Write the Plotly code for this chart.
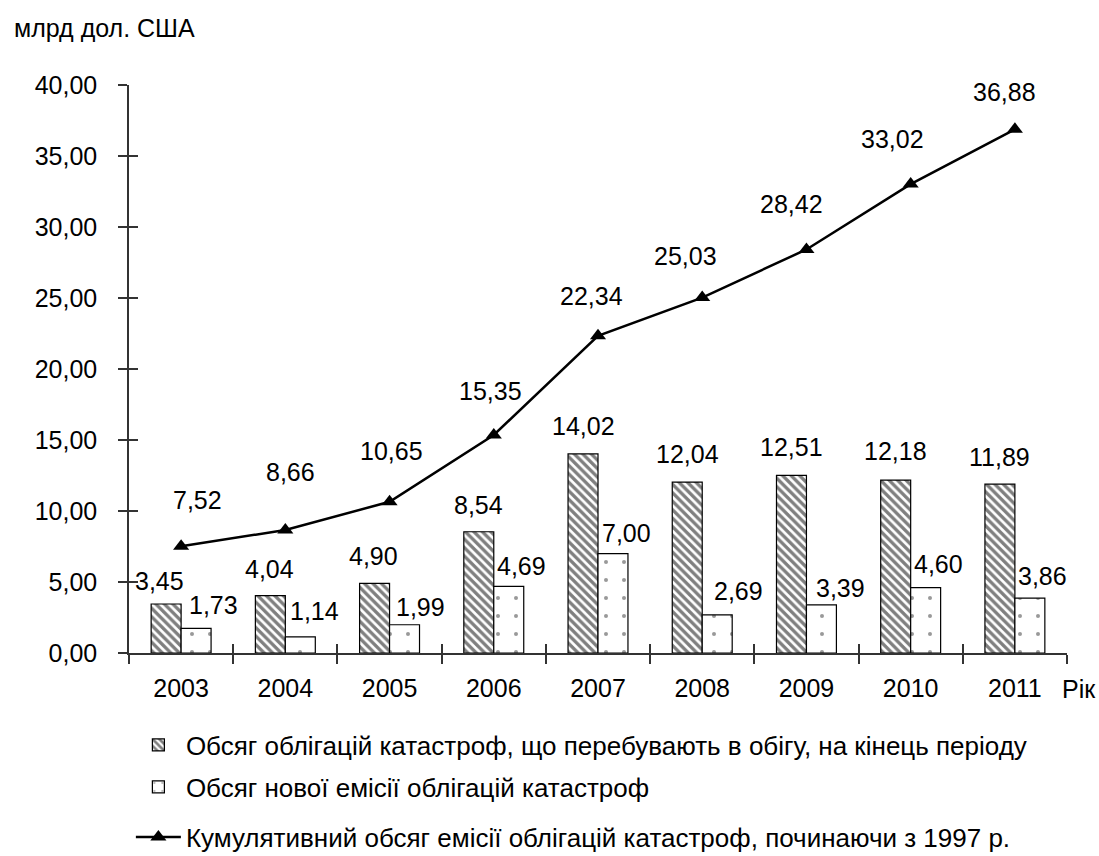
import plotly.graph_objects as go

years = ["2003", "2004", "2005", "2006", "2007", "2008", "2009", "2010", "2011"]
outstanding = [3.45, 4.04, 4.90, 8.54, 14.02, 12.04, 12.51, 12.18, 11.89]
new_issue = [1.73, 1.14, 1.99, 4.69, 7.00, 2.69, 3.39, 4.60, 3.86]
cumulative = [7.52, 8.66, 10.65, 15.35, 22.34, 25.03, 28.42, 33.02, 36.88]

name_out = "Обсяг облігацій катастроф, що перебувають в обігу, на кінець періоду"
name_new = "Обсяг нової емісії облігацій катастроф"
name_cum = "Кумулятивний обсяг емісії облігацій катастроф, починаючи з 1997 р."
y_title = "млрд дол. США"
x_title = "Рік"

# label offsets in pixels (style only)
out_dx = [-7, -1, -1, 0, 0, 0, 0, 0, 0]
out_dy = [23, 27, 27, 27, 28, 28, 28, 29, 27]
new_dx = [17, 14, 16, 13, 13, 21, 19, 13, 13]
new_dy = [23, 26, 18, 20, 21, 24, 17, 24, 22]
cum_dx = [16, 5, 2, -3, -7, -17, -15, -18, -10]
cum_dy = [46, 58, 51, 44, 40, 42, 45, 45, 37]

FONT = "Liberation Sans, Arial, sans-serif"
FS = 25
BAR_HALF = 15


def fmt(v):
    return f"{v:.2f}".replace(".", ",")


fig = go.Figure()
fig.add_trace(go.Bar(
    x=years, y=outstanding, name=name_out, legend="legend",
    marker=dict(color="white", line=dict(color="black", width=1.2),
                pattern=dict(shape="\\", fgcolor="black", bgcolor="white", size=6, solidity=0.55)),
))
fig.add_trace(go.Bar(
    x=years, y=new_issue, name=name_new, legend="legend2",
    marker=dict(color="white", line=dict(color="black", width=1.2),
                pattern=dict(shape=".", fgcolor="#333", bgcolor="white", size=18, solidity=0.04)),
))
fig.add_trace(go.Scatter(
    x=years, y=cumulative, name=name_cum, legend="legend3", mode="lines+markers",
    line=dict(color="black", width=2.5),
    marker=dict(symbol="triangle-up", size=14, color="black"),
))
# empty helper trace for crossing tick marks
fig.add_trace(go.Scatter(x=[None], y=[None], xaxis="x2", yaxis="y2", showlegend=False, hoverinfo="skip"))

annotations = []
for i in range(len(years)):
    annotations.append(dict(x=i, y=outstanding[i], xref="x", yref="y", text=fmt(outstanding[i]),
                            showarrow=False, xshift=-BAR_HALF + out_dx[i], yshift=out_dy[i]))
    annotations.append(dict(x=i, y=new_issue[i], xref="x", yref="y", text=fmt(new_issue[i]),
                            showarrow=False, xshift=BAR_HALF + new_dx[i], yshift=new_dy[i]))
    annotations.append(dict(x=i, y=cumulative[i], xref="x", yref="y", text=fmt(cumulative[i]),
                            showarrow=False, xshift=cum_dx[i], yshift=cum_dy[i]))
annotations.append(dict(x=-0.1247, y=1.10, xref="paper", yref="paper", text=y_title,
                        showarrow=False, xanchor="left", yanchor="middle"))
annotations.append(dict(x=0.9925, y=-0.0634, xref="paper", yref="paper", text=x_title,
                        showarrow=False, xanchor="left", yanchor="middle"))

n = len(years)
bounds = [i - 0.5 for i in range(n + 1)]

legend_common = dict(xanchor="left", yanchor="middle", bgcolor="rgba(0,0,0,0)",
                     font=dict(family=FONT, size=26, color="black"), itemwidth=45)

fig.update_layout(
    width=1099, height=856,
    margin=dict(l=129, r=32, t=85, b=203, autoexpand=False),
    paper_bgcolor="white", plot_bgcolor="white",
    font=dict(family=FONT, size=FS, color="black"),
    separators=", ",
    barmode="group", bargap=0.425, bargroupgap=0,
    annotations=annotations,
    legend=dict(x=0.002, y=-0.162, **legend_common),
    legend2=dict(x=0.002, y=-0.236, **legend_common),
    legend3=dict(x=0.002, y=-0.324, **legend_common),
    xaxis=dict(type="category", range=[-0.5, n - 0.5], showline=True, linecolor="#333", linewidth=1.5,
               ticks="outside", ticklen=9, tickcolor="#333", tickwidth=1.5, tickson="boundaries",
               showgrid=False, zeroline=False, ticklabelstandoff=12),
    yaxis=dict(range=[0, 40], dtick=5, tickformat=".2f", showline=True, linecolor="#333", linewidth=1.5,
               ticks="outside", ticklen=9, tickcolor="#333", tickwidth=1.5,
               showgrid=False, zeroline=False, ticklabelstandoff=16),
    xaxis2=dict(overlaying="x", anchor="y2", range=[-0.5, n - 0.5], tickvals=bounds, ticks="inside",
                ticklen=9, tickcolor="#333", tickwidth=1.5, showticklabels=False, showgrid=False,
                zeroline=False, showline=False),
    yaxis2=dict(overlaying="y", anchor="x2", side="left", range=[0, 40], dtick=5, ticks="inside",
                ticklen=9, tickcolor="#333", tickwidth=1.5, showticklabels=False, showgrid=False,
                zeroline=False, showline=False),
)

fig.write_html("out.html", config={"displayModeBar": False},
               post_script="document.body.style.margin='0';document.body.style.padding='0';")
